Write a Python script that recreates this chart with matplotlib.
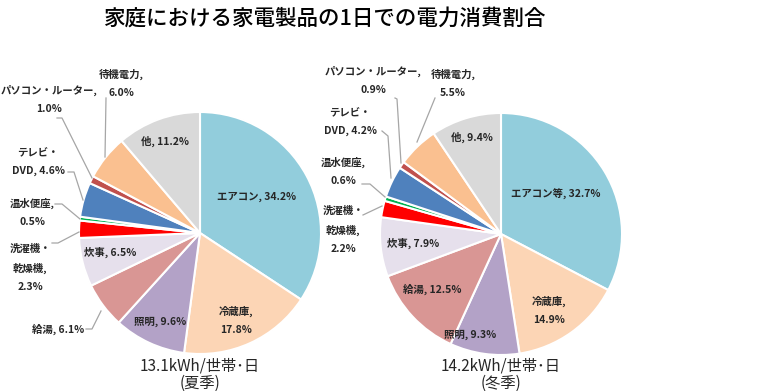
import matplotlib
matplotlib.use("Agg")
import matplotlib.pyplot as plt

plt.rcParams['font.family'] = ['Noto Sans CJK JP', 'DejaVu Sans']

# ---------------- data ----------------
title = "家庭における家電製品の1日での電力消費割合"
names_summer = ["エアコン", "冷蔵庫", "照明", "給湯", "炊事", "洗濯機・\n乾燥機",
                "温水便座", "テレビ・\nDVD", "パソコン・ルーター", "待機電力", "他"]
names_winter = ["エアコン等", "冷蔵庫", "照明", "給湯", "炊事", "洗濯機・\n乾燥機",
                "温水便座", "テレビ・\nDVD", "パソコン・ルーター", "待機電力", "他"]
summer = [34.2, 17.8, 9.6, 6.1, 6.5, 2.3, 0.5, 4.6, 1.0, 6.0, 11.2]
winter = [32.7, 14.9, 9.3, 12.5, 7.9, 2.2, 0.6, 4.2, 0.9, 5.5, 9.4]
colors = ["#92CDDC", "#FCD5B5", "#B3A2C7", "#D99694", "#E6E0EC", "#FF0000",
          "#00B050", "#4F81BD", "#C0504D", "#FAC090", "#D9D9D9"]
captions = ["13.1kWh/世帯･日\n(夏季)", "14.2kWh/世帯･日\n(冬季)"]

# label line-break style: 0 -> "name, v%", 1 -> "name,\nv%"
breaks_summer = [0, 1, 0, 0, 0, 1, 1, 0, 1, 1, 0]
breaks_winter = [0, 1, 0, 0, 0, 1, 1, 0, 1, 1, 0]

W, H = 780, 391
fig = plt.figure(figsize=(W / 100, H / 100), dpi=100)
fig.text(325 / W, 1 - 19 / H, title, ha='center', va='center', fontsize=15.5,
         color='#000000', fontweight='medium')

R = 121

# label pixel positions (layout) and leader lines
layout_summer = {
    "pos": [(257, 197), (236, 320), (160, 322), (58, 329), (110, 252), (30, 268),
            (32, 212), (38, 162), (49, 99), (121, 83), (165, 141)],
    "leaders": {3: [(86, 329), (92, 329), (101, 311)],
                5: [(52, 243), (58, 243), (79, 232)],
                6: [(55, 204), (62, 204), (80, 219)],
                7: [(68, 172), (74, 172), (83, 200)],
                8: [(57, 118), (62, 118), (92, 178)],
                9: [(106, 98), (105, 157)]},
}
layout_winter = {
    "pos": [(556, 194), (549, 310), (470, 335), (432, 289), (413, 243), (343, 230),
            (343, 171), (350, 122), (373, 80), (453, 83), (472, 137)],
    "leaders": {5: [(363, 215), (382, 206)],
                6: [(362, 184), (370, 184), (385, 197)],
                7: [(382, 131), (388, 136), (391, 178)],
                8: [(395, 98), (397, 99), (401, 163)],
                9: [(435, 98), (417, 142)]},
}


def draw_pie(cx, cy, values, names, breaks, layout, caption):
    ax = fig.add_axes([(cx - R) / W, (H - cy - R) / H, 2 * R / W, 2 * R / H])
    ax.pie(values, colors=colors, startangle=90, counterclock=False, radius=1,
           wedgeprops=dict(edgecolor='white', linewidth=1.5))
    ax.set_xlim(-1, 1)
    ax.set_ylim(-1, 1)
    ax.set_aspect('equal')
    ax.axis('off')

    def conv(px, py):
        return (px - cx) / R, (cy - py) / R

    for i, (v, n) in enumerate(zip(values, names)):
        sep = ",\n" if breaks[i] else ", "
        txt = f"{n}{sep}{v:.1f}%"
        x, y = conv(*layout["pos"][i])
        ax.text(x, y, txt, ha='center', va='center', fontsize=7.5, fontweight='bold',
                color='#262626', linespacing=2.0, clip_on=False)
    for i, pts in layout["leaders"].items():
        xs, ys = zip(*[conv(px, py) for px, py in pts])
        ax.plot(xs, ys, color='#A6A6A6', lw=0.9, clip_on=False)
    fig.text(cx / W, 1 - 375 / H, caption, ha='center', va='center', fontsize=11,
             color='#262626', linespacing=1.05)


draw_pie(200, 233, summer, names_summer, breaks_summer, layout_summer, captions[0])
draw_pie(501, 234, winter, names_winter, breaks_winter, layout_winter, captions[1])

fig.savefig("out.png", dpi=100)
